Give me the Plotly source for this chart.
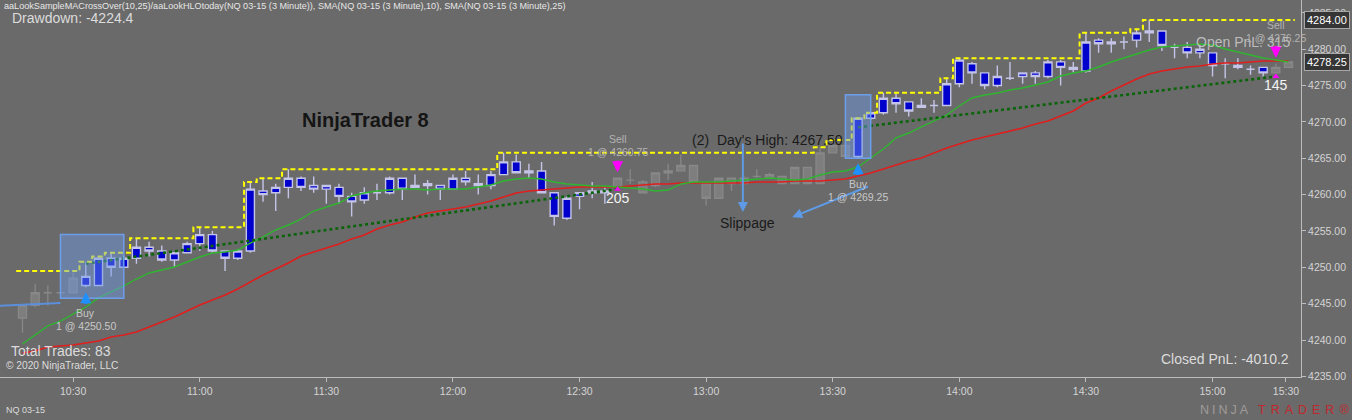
import plotly.graph_objects as go

# ---------------- data ----------------
bar_open = [4243.0, 4244.75, 4246.5, 4246.5, 4246.5, 4247.5, 4247.5, 4251.25, 4250.0, 4251.25,
            4252.75, 4252.25, 4251.0, 4252.0, 4253.25, 4254.5, 4252.25, 4251.25, 4252.25, 4260.5,
            4260.25, 4261.0, 4262.25, 4261.25, 4260.75, 4261.0, 4259.75, 4259.25, 4260.25, 4260.25,
            4262.25, 4261.0, 4261.25, 4261.25, 4260.75, 4262.25, 4261.5, 4261.25, 4262.75, 4264.5,
            4263.25, 4263.25, 4260.25, 4256.75, 4259.75, 4260.25, 4260.5, 4261.0, 4262.0, 4261.75,
            4261.25, 4263.0, 4263.25, 4264.0, 4261.5, 4259.5, 4262.25, 4261.5, 4262.5, 4262.25,
            4262.5, 4261.5, 4263.75, 4261.5, 4265.75, 4266.75, 4265.25, 4270.5, 4271.25, 4273.25,
            4272.75, 4272.0, 4272.25, 4272.25, 4275.25, 4278.0, 4276.75, 4275.0, 4276.0, 4276.25,
            4276.75, 4276.25, 4278.25, 4277.25, 4277.0, 4281.25, 4280.75, 4281.0, 4281.25, 4282.25,
            4282.5, 4280.25, 4280.25, 4279.5, 4279.5, 4278.0, 4277.75, 4277.25, 4277.5, 4276.75,
            4277.5]
bar_high = [4244.75, 4247.75, 4247.5, 4246.75, 4249.25, 4250.75, 4251.5, 4252.0, 4251.5, 4254.0,
            4253.5, 4253.0, 4252.0, 4253.5, 4255.5, 4255.0, 4252.25, 4252.5, 4261.75, 4262.25,
            4261.5, 4263.5, 4262.5, 4262.5, 4261.25, 4261.5, 4260.25, 4261.0, 4261.5, 4262.5,
            4262.25, 4262.75, 4262.0, 4261.25, 4262.75, 4263.25, 4262.75, 4263.25, 4265.75, 4265.5,
            4264.25, 4264.5, 4260.25, 4259.75, 4260.25, 4261.75, 4261.0, 4262.25, 4263.5, 4262.0,
            4263.0, 4264.25, 4265.5, 4264.0, 4261.5, 4262.25, 4262.25, 4262.5, 4263.5, 4263.0,
            4262.5, 4263.75, 4263.75, 4266.5, 4267.5, 4267.0, 4270.5, 4271.25, 4274.0, 4274.0,
            4272.75, 4273.25, 4273.0, 4276.0, 4278.75, 4278.25, 4276.75, 4277.75, 4278.25, 4276.75,
            4277.0, 4278.5, 4278.5, 4278.25, 4282.25, 4281.5, 4281.5, 4281.75, 4282.75, 4284.0,
            4282.5, 4280.75, 4281.0, 4280.5, 4279.5, 4278.75, 4278.75, 4277.75, 4277.5, 4278.0,
            4278.25]
bar_low = [4241.0, 4244.5, 4244.75, 4246.25, 4246.5, 4247.25, 4247.5, 4248.75, 4250.0, 4250.5,
           4251.5, 4250.75, 4250.0, 4252.0, 4252.25, 4252.0, 4249.5, 4251.0, 4252.0, 4259.0,
           4257.75, 4259.5, 4260.5, 4260.25, 4258.75, 4258.75, 4257.0, 4258.75, 4259.25, 4260.0,
           4259.25, 4261.0, 4260.0, 4259.25, 4260.75, 4261.25, 4260.0, 4260.75, 4262.75, 4263.0,
           4262.25, 4260.25, 4255.75, 4256.5, 4258.0, 4259.5, 4258.75, 4260.75, 4261.5, 4260.25,
           4261.0, 4262.0, 4263.25, 4261.75, 4258.5, 4259.5, 4260.5, 4261.5, 4262.25, 4262.25,
           4261.5, 4261.5, 4261.5, 4261.5, 4265.75, 4265.0, 4265.0, 4270.25, 4271.0, 4271.25,
           4270.75, 4272.0, 4271.25, 4272.25, 4274.75, 4275.25, 4274.5, 4274.75, 4275.75, 4275.25,
           4275.25, 4276.0, 4275.0, 4276.75, 4276.75, 4279.5, 4279.5, 4280.0, 4280.25, 4281.0,
           4279.75, 4278.75, 4278.75, 4278.75, 4276.25, 4276.0, 4277.25, 4276.5, 4276.25, 4276.25,
           4277.5]
bar_close = [4244.75, 4246.5, 4246.5, 4246.5, 4248.5, 4248.75, 4251.25, 4250.0, 4251.25, 4252.75,
             4252.25, 4251.0, 4252.0, 4253.25, 4254.5, 4252.25, 4251.25, 4252.25, 4260.75, 4260.0,
             4261.0, 4262.25, 4261.0, 4260.75, 4261.25, 4259.75, 4259.0, 4260.25, 4260.25, 4262.25,
             4260.75, 4261.25, 4261.5, 4260.75, 4262.25, 4261.75, 4261.25, 4262.75, 4264.5, 4263.0,
             4263.0, 4260.25, 4257.0, 4259.5, 4260.25, 4260.5, 4260.25, 4262.25, 4262.0, 4260.25,
             4263.0, 4263.25, 4264.0, 4261.75, 4259.5, 4262.25, 4261.5, 4262.25, 4262.5, 4262.75,
             4261.5, 4263.75, 4261.5, 4265.75, 4266.75, 4265.25, 4270.5, 4271.25, 4273.25, 4272.5,
             4271.5, 4272.25, 4272.25, 4275.25, 4278.5, 4276.75, 4275.0, 4276.25, 4276.0, 4276.75,
             4276.25, 4278.25, 4277.5, 4277.5, 4281.0, 4280.75, 4281.0, 4281.0, 4282.25, 4282.5,
             4280.5, 4280.25, 4279.5, 4280.0, 4277.75, 4278.0, 4277.5, 4277.25, 4276.75, 4277.5,
             4278.25]

sma10 = [4239.45, 4240.69, 4241.93, 4242.61, 4243.58, 4244.54, 4245.78, 4246.60, 4247.43, 4248.39,
         4249.22, 4249.63, 4250.04, 4250.73, 4251.42, 4251.97, 4252.10, 4252.38, 4253.34, 4254.17,
         4255.13, 4255.82, 4256.64, 4257.74, 4258.29, 4258.84, 4259.81, 4260.22, 4260.50, 4260.63,
         4260.77, 4260.77, 4260.63, 4260.77, 4260.77, 4260.77, 4261.05, 4261.32, 4261.87, 4262.15,
         4262.28, 4262.15, 4261.73, 4261.46, 4261.32, 4261.18, 4261.18, 4261.05, 4260.91, 4260.77,
         4260.50, 4260.63, 4261.46, 4261.73, 4261.73, 4261.73, 4261.87, 4262.01, 4262.15, 4262.28,
         4262.15, 4262.01, 4262.15, 4262.70, 4263.11, 4263.25, 4263.80, 4265.03, 4266.27, 4267.79,
         4268.47, 4269.30, 4270.12, 4270.95, 4272.19, 4273.29, 4273.70, 4273.98, 4274.39, 4274.66,
         4275.08, 4275.49, 4276.31, 4276.73, 4277.00, 4277.55, 4278.24, 4278.79, 4279.34, 4279.89,
         4280.30, 4280.44, 4280.58, 4280.72, 4280.58, 4280.03, 4279.61, 4279.20, 4278.79, 4278.51,
         4278.24]
sma25 = [4238.21, 4238.49, 4239.04, 4239.17, 4239.31, 4239.59, 4239.86, 4240.41, 4240.69, 4241.10,
         4241.79, 4242.48, 4243.16, 4243.99, 4244.81, 4245.50, 4246.19, 4247.02, 4247.98, 4248.94,
         4249.77, 4250.59, 4251.55, 4252.10, 4252.65, 4253.20, 4253.89, 4254.44, 4255.27, 4255.82,
         4256.23, 4256.92, 4257.47, 4257.74, 4258.02, 4258.29, 4258.71, 4259.12, 4259.67, 4260.22,
         4260.50, 4260.63, 4260.77, 4260.91, 4261.05, 4261.05, 4261.05, 4261.05, 4261.18, 4261.32,
         4261.46, 4261.46, 4261.60, 4261.60, 4261.60, 4261.60, 4261.60, 4261.60, 4261.73, 4261.73,
         4261.73, 4261.87, 4261.87, 4261.87, 4262.01, 4262.15, 4262.56, 4262.97, 4263.52, 4264.07,
         4264.62, 4265.03, 4265.72, 4266.41, 4266.96, 4267.51, 4267.92, 4268.34, 4268.75, 4269.16,
         4269.71, 4270.12, 4270.81, 4271.50, 4272.60, 4273.29, 4274.25, 4275.08, 4275.90, 4276.59,
         4277.00, 4277.28, 4277.55, 4277.69, 4277.96, 4278.10, 4278.10, 4278.24, 4278.38, 4278.38,
         4278.38]

prior_session_high = 4249.5

tick_pos = [4, 14, 24, 34, 44, 54, 64, 74, 84, 94, 99.8]
tick_labels = ["10:30", "11:00", "11:30", "12:00", "12:30", "13:00",
               "13:30", "14:00", "14:30", "15:00", "15:30"]

entry_idx = [5, 66]
entry_price = [4250.50, 4269.25]
exit_idx = [47, 99]
exit_price = [4260.75, 4276.25]
trade_pnl = ["205", "145"]

prev_trade_x = [-1.78, 3]
prev_trade_y = [4244.7, 4245.1]

box_x0 = [3, 65]
box_x1 = [8, 67]
box_lo = [4245.75, 4265.0]
box_hi = [4254.5, 4273.75]

day_high_idx = 64
day_high_price = 4267.50

header = ("aaLookSampleMACrossOver(10,25)/aaLookHLOtoday(NQ 03-15 (3 Minute)), "
          "SMA(NQ 03-15 (3 Minute),10), SMA(NQ 03-15 (3 Minute),25)")
drawdown_text = "Drawdown: -4224.4"
total_trades_text = "Total Trades: 83"
closed_pnl_text = "Closed PnL: -4010.2"
open_pnl_text = "Open PnL: 315"

# ---------------- geometry helpers (layout only) ----------------
BG = "#6A6A6A"
PLOT_W, PLOT_H = 1301, 377
X0_PIX, BAR_PIX = 22.5, 12.66
Y_PER_PT = 7.27
x_lo = (0 - X0_PIX) / BAR_PIX
x_hi = (PLOT_W - X0_PIX) / BAR_PIX
y_hi = 4240 + 340 / Y_PER_PT
y_lo = 4240 - (PLOT_H - 340) / Y_PER_PT


def px(x):
    return x / PLOT_W


def py(y):
    return 1 - y / PLOT_H


n = len(bar_open)
idx = list(range(n))
in_pos = [any(e <= i < x for e, x in zip(entry_idx, exit_idx)) for i in idx]

fig = go.Figure()


def candles(sel, fill, line, lw):
    xs = [i for i in idx if sel(i)]
    style = dict(fillcolor=fill, line=dict(color=line, width=lw))
    fig.add_trace(go.Candlestick(
        x=xs,
        open=[bar_open[i] for i in xs], high=[bar_high[i] for i in xs],
        low=[bar_low[i] for i in xs], close=[bar_close[i] for i in xs],
        increasing=style, decreasing=style, whiskerwidth=0,
        hoverinfo="skip", showlegend=False))


candles(lambda i: not in_pos[i], "#7E7E7E", "#888888", 1.3)
candles(lambda i: in_pos[i], "#0000CC", "#C4C4E8", 1.4)

# previous trade line (losing trade, blue)
fig.add_trace(go.Scatter(x=prev_trade_x, y=prev_trade_y, mode="lines",
                         line=dict(color="#5B8FDB", width=2), hoverinfo="skip"))

# SMAs
fig.add_trace(go.Scatter(x=idx, y=sma25, mode="lines",
                         line=dict(color="#E01E1E", width=1.6), hoverinfo="skip"))
fig.add_trace(go.Scatter(x=idx, y=sma10, mode="lines",
                         line=dict(color="#2FB52F", width=1.4), hoverinfo="skip"))

# trade lines (winning, dotted dark green)
for e, ep, x, xp in zip(entry_idx, entry_price, exit_idx, exit_price):
    fig.add_trace(go.Scatter(x=[e, x], y=[ep, xp], mode="lines",
                             line=dict(color="#0A640A", width=2.6, dash="dot"),
                             hoverinfo="skip"))

# running high of day (yellow dashed step)
hx, hy = [], []
run = prior_session_high
for i, h in enumerate(bar_high):
    run = max(run, h)
    hx += [i - 0.5, i + 0.5]
    hy += [run, run]
fig.add_trace(go.Scatter(x=hx, y=hy, mode="lines",
                         line=dict(color="#FFFF00", width=2, dash="5px,3px"),
                         hoverinfo="skip"))

# exit price markers
fig.add_trace(go.Scatter(x=exit_idx, y=exit_price, mode="markers",
                         marker=dict(symbol="triangle-up", size=6, color="#FF00FF"),
                         hoverinfo="skip"))

shapes = []
for x0, x1, lo, hi in zip(box_x0, box_x1, box_lo, box_hi):
    shapes.append(dict(type="rect", xref="x", yref="y", x0=x0, x1=x1, y0=lo, y1=hi,
                       fillcolor="rgba(110,155,235,0.45)",
                       line=dict(color="rgba(110,160,240,0.95)", width=1.5),
                       layer="above"))

ann = []
TXT = "#DCDCDC"
FONT = "Arial"


def hud(x, y, text, size, color=TXT, xanchor="left", bold=False):
    ann.append(dict(xref="paper", yref="paper", x=px(x), y=py(y), text=f"<b>{text}</b>" if bold else text,
                    showarrow=False, xanchor=xanchor, yanchor="middle",
                    font=dict(family=FONT, size=size, color=color)))


hud(2, 6, header, 9.1, "#E6E6E6")
hud(10, 18, drawdown_text, 14)
hud(9, 351, total_trades_text, 14)
hud(4, 365, "\u00a9 2020 NinjaTrader, LLC", 10.2)
hud(1291, 359, closed_pnl_text, 14, xanchor="right")
hud(1292, 42, open_pnl_text, 14, "rgba(205,205,205,0.85)", xanchor="right")
hud(4, 410, "NQ 03-15", 9)
hud(1253, 410, '<span style="letter-spacing:3px">NINJA</span>', 12.5, "#A09A98", xanchor="right")
hud(1256, 410, '<span style="letter-spacing:5px">TRADER</span>\u00ae', 12.5, "#C0282D")

# drawn text objects on chart
ann.append(dict(x=27.13, y=4270.26, text="<b>NinjaTrader 8</b>", showarrow=False,
                font=dict(family=FONT, size=20, color="#151515")))
ann.append(dict(x=day_high_idx + 1, y=day_high_price,
                text="(2)\u00a0 Day's High: %.2f" % day_high_price, showarrow=False,
                xanchor="right", yanchor="middle",
                font=dict(family=FONT, size=14, color="#1A1A1A")))
ann.append(dict(x=57.3, y=4256.1, text="Slippage", showarrow=False,
                font=dict(family=FONT, size=14, color="#1A1A1A")))
# slippage arrows
ann.append(dict(x=56.9, y=4257.6, ax=56.9, ay=4267.25, axref="x", ayref="y", text="",
                showarrow=True, arrowhead=2, arrowsize=1, arrowwidth=2, arrowcolor="#5E9AE6"))
ann.append(dict(x=60.8, y=4256.9, ax=66.9, ay=4261.2, axref="x", ayref="y", text="",
                showarrow=True, arrowhead=2, arrowsize=1, arrowwidth=2, arrowcolor="#5E9AE6"))

LBL = "#C8C8C8"
for e, ep in zip(entry_idx, entry_price):
    lo = bar_low[e]
    ann.append(dict(x=e, y=lo, yshift=-5, ax=0, ay=13, text="", showarrow=True,
                    arrowhead=2, arrowsize=0.55, arrowwidth=4, arrowcolor="#1E90FF"))
    ann.append(dict(x=e, y=lo, yshift=-26, text="Buy", showarrow=False,
                    font=dict(family=FONT, size=10.5, color=LBL)))
    ann.append(dict(x=e, y=lo, yshift=-39, text="1 @ %.2f" % ep, showarrow=False,
                    font=dict(family=FONT, size=10.5, color=LBL)))
for x, xp, pnl in zip(exit_idx, exit_price, trade_pnl):
    hi = bar_high[x]
    ann.append(dict(x=x, y=hi, yshift=6, ax=0, ay=-13, text="", showarrow=True,
                    arrowhead=2, arrowsize=0.55, arrowwidth=4, arrowcolor="#FF00FF"))
    ann.append(dict(x=x, y=hi, yshift=39, text="Sell", showarrow=False,
                    font=dict(family=FONT, size=10.5, color="#B4B4B4")))
    ann.append(dict(x=x, y=hi, yshift=26, text="1 @ %.2f" % xp, showarrow=False,
                    font=dict(family=FONT, size=10.5, color="#B4B4B4")))
    ann.append(dict(x=x, y=xp, yshift=-9, text=pnl, showarrow=False,
                    font=dict(family=FONT, size=14, color="#F4F4F4")))

# right-axis price markers
day_max = max([prior_session_high] + bar_high)
for val in (day_max, bar_close[-1]):
    ann.append(dict(xref="paper", yref="y", x=1, y=val, xshift=3, xanchor="left",
                    yanchor="middle", text="%.2f" % val, showarrow=False,
                    bgcolor="#353535", bordercolor="#A8A8A8", borderwidth=1, borderpad=2,
                    font=dict(family=FONT, size=11, color="#FFFFFF")))

fig.update_layout(
    width=1352, height=420, autosize=False,
    margin=dict(l=0, r=51, t=0, b=43),
    paper_bgcolor=BG, plot_bgcolor=BG,
    showlegend=False, hovermode=False,
    boxgap=0.2, boxgroupgap=0.2,
    shapes=shapes, annotations=ann,
    xaxis=dict(range=[x_lo, x_hi], tickvals=tick_pos, ticktext=tick_labels,
               ticks="outside", ticklen=4, tickcolor="#BDBDBD",
               showline=True, linecolor="#BDBDBD", linewidth=1,
               showgrid=False, zeroline=False, rangeslider=dict(visible=False),
               tickfont=dict(family=FONT, size=10.5, color="#D4D4D4")),
    yaxis=dict(range=[y_lo, y_hi], side="right", tick0=4240, dtick=5, tickformat=".2f",
               ticks="outside", ticklen=4, tickcolor="#BDBDBD",
               showline=True, linecolor="#BDBDBD", linewidth=1,
               showgrid=False, zeroline=False,
               tickfont=dict(family=FONT, size=10.5, color="#D4D4D4")),
)

fig.write_html("out.html",
               config={"displayModeBar": False, "staticPlot": False},
               post_script="document.body.style.margin='0px';"
                           "document.body.style.background='%s';" % BG)
